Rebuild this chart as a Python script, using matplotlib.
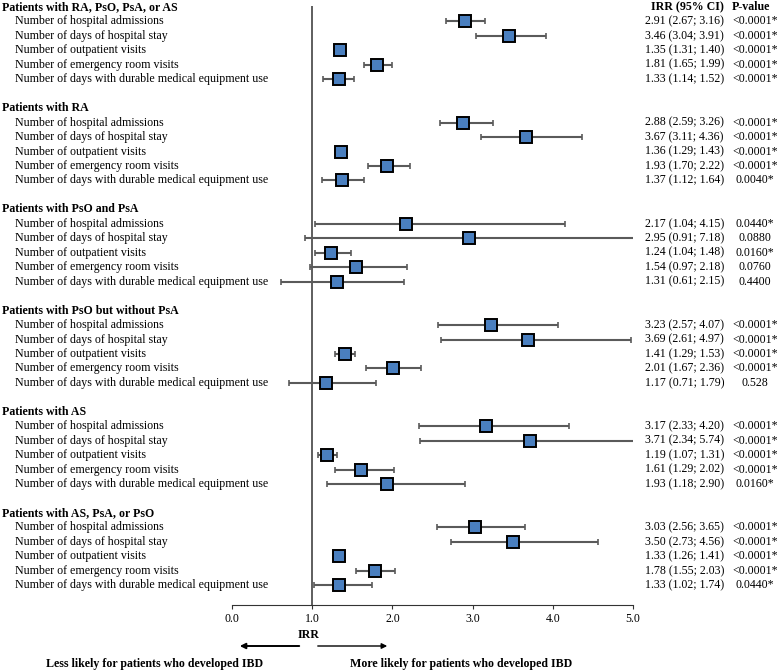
import matplotlib
matplotlib.use("Agg")
import matplotlib.pyplot as plt
import matplotlib.transforms as mtransforms

plt.rcParams['font.family'] = ['Liberation Serif', 'DejaVu Serif']

groups = [
    "Patients with RA, PsO, PsA, or AS",
    "Patients with RA",
    "Patients with PsO and PsA",
    "Patients with PsO but without PsA",
    "Patients with AS",
    "Patients with AS, PsA, or PsO",
]
outcomes = [
    "Number of hospital admissions",
    "Number of days of hospital stay",
    "Number of outpatient visits",
    "Number of emergency room visits",
    "Number of days with durable medical equipment use",
]

# IRR, lower CI, upper CI per group (rows follow outcomes)
irr = [
    [2.91, 3.46, 1.35, 1.81, 1.33],
    [2.88, 3.67, 1.36, 1.93, 1.37],
    [2.17, 2.95, 1.24, 1.54, 1.31],
    [3.23, 3.69, 1.41, 2.01, 1.17],
    [3.17, 3.71, 1.19, 1.61, 1.93],
    [3.03, 3.50, 1.33, 1.78, 1.33],
]
lower = [
    [2.67, 3.04, 1.31, 1.65, 1.14],
    [2.59, 3.11, 1.29, 1.70, 1.12],
    [1.04, 0.91, 1.04, 0.97, 0.61],
    [2.57, 2.61, 1.29, 1.67, 0.71],
    [2.33, 2.34, 1.07, 1.29, 1.18],
    [2.56, 2.73, 1.26, 1.55, 1.02],
]
upper = [
    [3.16, 3.91, 1.40, 1.99, 1.52],
    [3.26, 4.36, 1.43, 2.22, 1.64],
    [4.15, 7.18, 1.48, 2.18, 2.15],
    [4.07, 4.97, 1.53, 2.36, 1.79],
    [4.20, 5.74, 1.31, 2.02, 2.90],
    [3.65, 4.56, 1.41, 2.03, 1.74],
]
pvalues = [
    ["<0.0001*", "<0.0001*", "<0.0001*", "<0.0001*", "<0.0001*"],
    ["<0.0001*", "<0.0001*", "<0.0001*", "<0.0001*", "0.0040*"],
    ["0.0440*", "0.0880", "0.0160*", "0.0760", "0.4400"],
    ["<0.0001*", "<0.0001*", "<0.0001*", "<0.0001*", "0.528"],
    ["<0.0001*", "<0.0001*", "<0.0001*", "<0.0001*", "0.0160*"],
    ["<0.0001*", "<0.0001*", "<0.0001*", "<0.0001*", "0.0440*"],
]

W, H = 778, 670
fig = plt.figure(figsize=(W / 100, H / 100), dpi=100)
ax = fig.add_axes([232 / W, 1 - 605 / H, (633 - 232) / W, (605 - 5.5) / H])

fs = 8.6
trans = mtransforms.blended_transform_factory(fig.transFigure, ax.transData)

for g, name in enumerate(groups):
    top = g * 7
    ax.text(2 / W, top, name, transform=trans, fontsize=fs, fontweight='bold',
            va='center', ha='left')
    for k, lab in enumerate(outcomes):
        y = top + 1 + k
        ax.text(15 / W, y, lab, transform=trans, fontsize=fs, va='center', ha='left')
        est, lo, hi = irr[g][k], lower[g][k], upper[g][k]
        ax.errorbar(est, y, xerr=[[est - lo], [hi - est]], fmt='none',
                    ecolor='#5a5a5a', elinewidth=1.5, capsize=2.4, capthick=1.2)
        ax.plot(est, y, marker='s', markersize=8, markerfacecolor='#4a7fbf',
                markeredgecolor='black', markeredgewidth=1.4, linestyle='none')
        ax.text(645 / W, y, f"{est:.2f} ({lo:.2f}; {hi:.2f})", transform=trans,
                fontsize=fs, va='center', ha='left')
        ax.text(755 / W, y, pvalues[g][k], transform=trans, fontsize=fs,
                va='center', ha='center')

ax.text(687 / W, 0, "IRR (95% CI)", transform=trans, fontsize=fs,
        fontweight='bold', va='center', ha='center')
ax.text(751 / W, 0, "P-value", transform=trans, fontsize=fs,
        fontweight='bold', va='center', ha='center')

ax.axvline(1.0, color='#333333', linewidth=1.1, zorder=0)

ax.set_xlim(0, 5)
ax.set_ylim(41.36, -0.1)
ax.set_xticks([0, 1, 2, 3, 4, 5])
ax.set_xticklabels(["0.0", "1.0", "2.0", "3.0", "4.0", "5.0"], fontsize=fs)
ax.set_yticks([])
for s in ['top', 'right', 'left']:
    ax.spines[s].set_visible(False)
ax.spines['bottom'].set_color('#333333')
ax.tick_params(axis='x', length=3, color='#333333', pad=3)

# bottom annotations
fig.text(309 / W, 1 - 635 / H, "IRR", fontsize=fs, fontweight='bold',
         ha='center', va='center')
fig.add_artist(matplotlib.patches.FancyArrowPatch(
    (302 / W, 1 - 646 / H), (237 / W, 1 - 646 / H), transform=fig.transFigure,
    arrowstyle='-|>', mutation_scale=8, color='black', linewidth=1.4))
fig.add_artist(matplotlib.patches.FancyArrowPatch(
    (315 / W, 1 - 646 / H), (390 / W, 1 - 646 / H), transform=fig.transFigure,
    arrowstyle='-|>', mutation_scale=8, color='black', linewidth=1.0))
fig.text(155 / W, 1 - 664 / H, "Less likely for patients who developed IBD",
         fontsize=fs, fontweight='bold', ha='center', va='center')
fig.text(350 / W, 1 - 664 / H, "More likely for patients who developed IBD",
         fontsize=fs, fontweight='bold', ha='left', va='center')

fig.savefig("out.png", dpi=100)
